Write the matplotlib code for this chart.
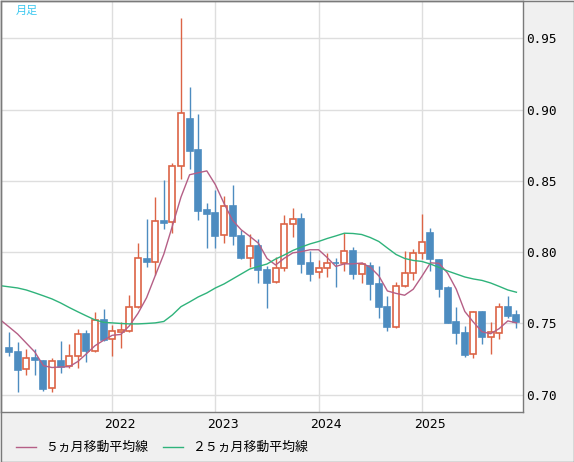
import matplotlib
matplotlib.use("Agg")
import matplotlib.pyplot as plt
from matplotlib.lines import Line2D
from matplotlib.patches import Rectangle
from matplotlib.transforms import blended_transform_factory

# ---- data ----
months = [f"{y}-{m:02d}" for y in range(2021, 2026) for m in range(1, 13)]

opens = [0.7328, 0.7302, 0.7179, 0.7258, 0.7239, 0.7045, 0.7237, 0.7202, 0.7270, 0.7424,
         0.7309, 0.7524, 0.7389, 0.7443, 0.7450, 0.7613, 0.7955, 0.7934, 0.8221, 0.8210,
         0.8602, 0.8934, 0.8717, 0.8296, 0.8277, 0.8118, 0.8324, 0.8114, 0.7957, 0.8044,
         0.7875, 0.7789, 0.7887, 0.8195, 0.8233, 0.7924, 0.7859, 0.7887, 0.7927, 0.7922,
         0.8008, 0.7850, 0.7903, 0.7779, 0.7616, 0.7478, 0.7761, 0.7852, 0.7992, 0.8132,
         0.7945, 0.7749, 0.7511, 0.7431, 0.7288, 0.7578, 0.7403, 0.7436, 0.7613, 0.7560]
highs = [0.7442, 0.7373, 0.7319, 0.7321, 0.7244, 0.7256, 0.7377, 0.7354, 0.7461, 0.7454,
         0.7583, 0.7602, 0.7489, 0.7513, 0.7700, 0.8062, 0.8233, 0.8387, 0.8506, 0.8623,
         0.9645, 0.9159, 0.8969, 0.8347, 0.8436, 0.8394, 0.8471, 0.8156, 0.8125, 0.8093,
         0.7903, 0.7969, 0.8261, 0.8308, 0.8273, 0.8008, 0.7945, 0.7997, 0.7959, 0.8132,
         0.8039, 0.7934, 0.7934, 0.7906, 0.7693, 0.7793, 0.8011, 0.8020, 0.8268, 0.8170,
         0.7952, 0.7760, 0.7618, 0.7483, 0.7590, 0.7588, 0.7508, 0.7641, 0.7693, 0.7595]
lows = [0.7272, 0.7022, 0.7139, 0.7139, 0.7029, 0.7022, 0.7155, 0.7190, 0.7190, 0.7232,
        0.7302, 0.7377, 0.7274, 0.7330, 0.7443, 0.7605, 0.7899, 0.7840, 0.8163, 0.8137,
        0.8516, 0.8586, 0.8226, 0.8032, 0.8032, 0.8067, 0.8051, 0.7950, 0.7894, 0.7786,
        0.7611, 0.7782, 0.7871, 0.8109, 0.7856, 0.7800, 0.7821, 0.7828, 0.7758, 0.7871,
        0.7812, 0.7782, 0.7665, 0.7541, 0.7450, 0.7471, 0.7754, 0.7805, 0.7952, 0.7871,
        0.7688, 0.7506, 0.7356, 0.7267, 0.7256, 0.7356, 0.7286, 0.7389, 0.7536, 0.7471]
closes = [0.7302, 0.7174, 0.7256, 0.7246, 0.7041, 0.7237, 0.7193, 0.7270, 0.7424, 0.7309,
          0.7524, 0.7384, 0.7445, 0.7454, 0.7613, 0.7957, 0.7934, 0.8219, 0.8207, 0.8602,
          0.8974, 0.8712, 0.8291, 0.8270, 0.8116, 0.8322, 0.8116, 0.7962, 0.8041, 0.7875,
          0.7786, 0.7887, 0.8195, 0.8231, 0.7920, 0.7850, 0.7887, 0.7922, 0.7922, 0.8008,
          0.7850, 0.7917, 0.7779, 0.7618, 0.7478, 0.7761, 0.7852, 0.7992, 0.8069, 0.7952,
          0.7744, 0.7506, 0.7436, 0.7281, 0.7578, 0.7408, 0.7438, 0.7613, 0.7555, 0.7508]

# moving averages, starting one month before the first candle (Dec 2020)
ma5 = [0.7525, 0.7476, 0.7426, 0.7363, 0.7300, 0.7204, 0.7191, 0.7195, 0.7197, 0.7233,
       0.7287, 0.7344, 0.7382, 0.7417, 0.7423, 0.7484, 0.7571, 0.7681, 0.7835, 0.7986,
       0.8184, 0.8387, 0.8543, 0.8557, 0.8570, 0.8473, 0.8342, 0.8223, 0.8157, 0.8111,
       0.8063, 0.7956, 0.7910, 0.7957, 0.7995, 0.8004, 0.8017, 0.8017, 0.7962, 0.7900,
       0.7918, 0.7918, 0.7924, 0.7895, 0.7834, 0.7728, 0.7711, 0.7698, 0.7740, 0.7830,
       0.7925, 0.7922, 0.7853, 0.7741, 0.7584, 0.7509, 0.7442, 0.7428, 0.7464, 0.7518,
       0.7504]
ma25 = [0.7765, 0.7757, 0.7749, 0.7735, 0.7715, 0.7694, 0.7672, 0.7644, 0.7612, 0.7582,
        0.7553, 0.7525, 0.7508, 0.7504, 0.7500, 0.7497, 0.7497, 0.7500, 0.7504, 0.7514,
        0.7560, 0.7618, 0.7651, 0.7686, 0.7714, 0.7749, 0.7777, 0.7812, 0.7847, 0.7882,
        0.7900, 0.7917, 0.7952, 0.7980, 0.8012, 0.8036, 0.8058, 0.8075, 0.8096, 0.8114,
        0.8133, 0.8131, 0.8124, 0.8103, 0.8075, 0.8029, 0.7984, 0.7956, 0.7942, 0.7935,
        0.7917, 0.7893, 0.7868, 0.7847, 0.7826, 0.7812, 0.7802, 0.7784, 0.7760, 0.7735,
        0.7719]

y_ticks = [0.70, 0.75, 0.80, 0.85, 0.90, 0.95]
legend_labels = ["５ヵ月移動平均線", "２５ヵ月移動平均線"]
period_label = "月足"

# ---- style ----
UP = "#dc6446"
DOWN = "#4d8cc0"
MA5_C = "#b55f86"
MA25_C = "#2fb37b"
GRID = "#dedede"
FRAME = "#7a7a7a"
BG = "#f0f0f0"

W, H = 574, 462
fig = plt.figure(figsize=(W / 100, H / 100), dpi=100, facecolor=BG)
ax = fig.add_axes([1 / W, (H - 412.3) / H, (523.3 - 1) / W, (412.3 - 0.5) / H])
ax.set_facecolor("white")

n = len(closes)
xs = list(range(n))
body_w = 0.68

for i in xs:
    o, h, l, c = opens[i], highs[i], lows[i], closes[i]
    up = c >= o
    col = UP if up else DOWN
    ax.vlines(i, l, h, color=col, linewidth=1.0, zorder=2)
    lo, hi = min(o, c), max(o, c)
    ax.bar(i, max(hi - lo, 0.0004), bottom=lo, width=body_w,
           facecolor="white" if up else col, edgecolor=col,
           linewidth=1.2, zorder=3)

ma_x = list(range(-1, n))
ax.plot(ma_x, ma5, color=MA5_C, linewidth=1.0, zorder=4)
ax.plot(ma_x, ma25, color=MA25_C, linewidth=1.0, zorder=4)

ax.set_xlim(-0.93, 59.8)
ax.set_ylim(0.6877, 0.9765)

# year gridlines at January positions
year_idx = [i for i, m in enumerate(months) if m.endswith("-01") and i > 0]
year_lbl = [months[i][:4] for i in year_idx]
ax.set_xticks(year_idx)
ax.set_xticklabels([])
ax.tick_params(axis="x", length=0)
ax.set_yticks(y_ticks)
ax.yaxis.tick_right()
ax.set_yticklabels([f"{v:.2f}" for v in y_ticks], family="DejaVu Sans Mono", fontsize=9.2)
ax.tick_params(axis="y", length=0, pad=2)
ax.grid(True, color=GRID, linewidth=1.0, zorder=0)
ax.set_axisbelow(True)
for s in ax.spines.values():
    s.set_color(FRAME)
    s.set_linewidth(1.0)

tr = blended_transform_factory(ax.transData, ax.transAxes)
for i, lbl in zip(year_idx, year_lbl):
    ax.text(i + 0.9, -12.7 / 411.8, lbl, transform=tr, ha="center", va="center",
            fontsize=9, family="DejaVu Sans", color="black")

fig.text(16 / W, 1 - 10.5 / H, period_label, color="#3cc8f0", fontsize=8,
         family=["Noto Sans CJK JP", "DejaVu Sans"], va="center", ha="left")

# legend
ly = 1 - 447 / H
fig.add_artist(Line2D([16 / W, 36 / W], [ly, ly], color=MA5_C, linewidth=1.0))
fig.text(45 / W, ly, legend_labels[0], fontsize=9.3, va="center", ha="left",
         family=["Noto Sans CJK JP", "DejaVu Sans"], color="black")
fig.add_artist(Line2D([163 / W, 183 / W], [ly, ly], color=MA25_C, linewidth=1.0))
fig.text(192 / W, ly, legend_labels[1], fontsize=9.3, va="center", ha="left",
         family=["Noto Sans CJK JP", "DejaVu Sans"], color="black")

# figure border
fig.add_artist(Rectangle((0.5 / W, 0.5 / H), (W - 1) / W, (H - 1) / H,
                         transform=fig.transFigure, fill=False, edgecolor=FRAME,
                         linewidth=1.0))

fig.savefig("out.png", dpi=100, facecolor=BG)
